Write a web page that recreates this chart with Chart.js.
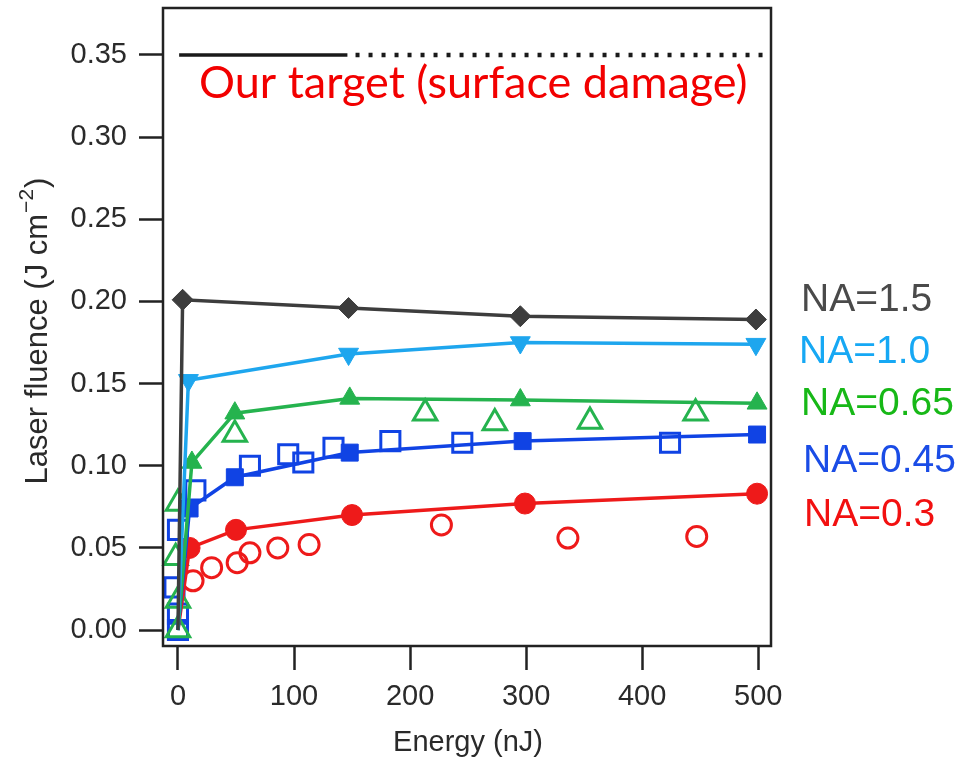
<!DOCTYPE html>
<html>
<head>
<meta charset="utf-8">
<title>Laser fluence vs energy</title>
<script src="https://cdn.jsdelivr.net/npm/chart.js@4.4.1/dist/chart.umd.min.js"></script>
<style>
  html, body { margin: 0; padding: 0; background: #fff; }
  #wrap { width: 963px; height: 758px; }
</style>
</head>
<body>
<div id="wrap"><canvas id="fluenceChart" width="963" height="758"></canvas></div>
<script>
// Axis ticks
const energyTicks = [0, 100, 200, 300, 400, 500];
const fluenceTicks = [0, 0.05, 0.10, 0.15, 0.20, 0.25, 0.30, 0.35];

// Fitted curves (filled markers); the first point of each is the origin
const na15Energy = [0, 4, 147, 295, 498];
const na15Fluence = [0, 0.201, 0.196, 0.191, 0.189];

const na10Energy = [0, 9, 147, 295, 498];
const na10Fluence = [0, 0.152, 0.168, 0.175, 0.174];

const na065Energy = [0, 12, 49, 148, 295, 499];
const na065Fluence = [0, 0.102, 0.132, 0.141, 0.140, 0.138];

const na045Energy = [0, 10, 49, 148, 297, 499];
const na045Fluence = [0, 0.074, 0.093, 0.108, 0.115, 0.119];

const na03Energy = [0, 10, 50, 150, 299, 499];
const na03Fluence = [0, 0.050, 0.061, 0.070, 0.077, 0.083];

// Measured points (open markers)
const na065OpenEnergy = [0, 0, -2, 0, 49, 213, 273, 355, 446];
const na065OpenFluence = [0, 0.018, 0.044, 0.077, 0.119, 0.132, 0.126, 0.127, 0.132];

const na045OpenEnergy = [0, 0, -3, 0, 15, 62, 95, 108, 134, 183, 245, 424];
const na045OpenFluence = [0, 0.010, 0.026, 0.061, 0.085, 0.100, 0.107, 0.102, 0.111, 0.115, 0.114, 0.114];

const na03OpenEnergy = [13, 29, 51, 62, 86, 113, 227, 336, 447];
const na03OpenFluence = [0.030, 0.038, 0.041, 0.047, 0.050, 0.052, 0.064, 0.056, 0.057];

// Surface damage target level
const targetFluence = 0.35;
const targetSolidEnergy = [1, 146];
const targetDottedEnergy = [153, 508];

// Labels on the right-hand side
const naLabels = ['NA=1.5', 'NA=1.0', 'NA=0.65', 'NA=0.45', 'NA=0.3'];

const GRAY = '#3d3d3d';
const CYAN = '#1ea6ee';
const GREEN = '#25b34e';
const BLUE = '#1043e4';
const RED = '#ee1a1a';

function toPoints(xs, ys) {
    return xs.map((x, i) => ({ x: x, y: ys[i] }));
}

// Fitted series: line plus filled markers, no marker at the origin
function fitSeries(xs, ys, color, style, radius, rotation) {
    return {
        data: toPoints(xs, ys),
        showLine: true,
        borderColor: color,
        borderWidth: 3.5,
        backgroundColor: color,
        pointBackgroundColor: color,
        pointBorderColor: color,
        pointBorderWidth: 1,
        pointStyle: style,
        pointRotation: rotation || 0,
        pointRadius: ctx => (ctx.raw && ctx.raw.x === 0 && ctx.raw.y === 0) ? 0 : radius,
        order: 1,
        clip: false
    };
}

function openSeries(xs, ys, color, style, radius) {
    return {
        data: toPoints(xs, ys),
        showLine: false,
        borderColor: color,
        backgroundColor: 'rgba(0,0,0,0)',
        pointBorderColor: color,
        pointBackgroundColor: 'rgba(0,0,0,0)',
        pointBorderWidth: 3,
        pointStyle: style,
        pointRadius: radius,
        order: 2,
        clip: false
    };
}

const datasets = [
    {
        data: toPoints(targetSolidEnergy, targetSolidEnergy.map(() => targetFluence)),
        showLine: true,
        borderColor: '#1a1a1a',
        borderWidth: 3.5,
        pointRadius: 0,
        order: 3
    },
    {
        data: toPoints(targetDottedEnergy, targetDottedEnergy.map(() => targetFluence)),
        showLine: true,
        borderColor: '#1a1a1a',
        borderWidth: 4.5,
        borderDash: [4, 9],
        borderCapStyle: 'butt',
        pointRadius: 0,
        order: 3
    },
    openSeries(na065OpenEnergy, na065OpenFluence, GREEN, 'triangle', 13.5),
    openSeries(na045OpenEnergy, na045OpenFluence, BLUE, 'rect', 13.5),
    openSeries(na03OpenEnergy, na03OpenFluence, RED, 'circle', 10),
    fitSeries(na15Energy, na15Fluence, GRAY, 'rectRot', 10.5),
    fitSeries(na10Energy, na10Fluence, CYAN, 'triangle', 11.5, 180),
    fitSeries(na065Energy, na065Fluence, GREEN, 'triangle', 11.5),
    fitSeries(na045Energy, na045Fluence, BLUE, 'rect', 12),
    fitSeries(na03Energy, na03Fluence, RED, 'circle', 10.5)
];

// Frame, axis titles and text annotations
const decorPlugin = {
    id: 'decor',
    afterDraw(chart) {
        const { ctx, chartArea: a } = chart;
        ctx.save();

        ctx.strokeStyle = '#222';
        ctx.lineWidth = 2.5;
        ctx.strokeRect(a.left, a.top, a.right - a.left, a.bottom - a.top);

        // x title
        ctx.fillStyle = '#2a2a2a';
        ctx.font = '29px "Liberation Sans", Arial, sans-serif';
        ctx.textAlign = 'center';
        ctx.textBaseline = 'alphabetic';
        ctx.fillText('Energy (nJ)', 468, 751);

        // y title with superscript
        const main = 'Laser fluence (J cm';
        const sup = '\u22122';
        const tail = ')';
        const bigFont = '31px "Liberation Sans", Arial, sans-serif';
        const smallFont = '21px "Liberation Sans", Arial, sans-serif';
        ctx.font = bigFont;
        const wMain = ctx.measureText(main).width;
        const wTail = ctx.measureText(tail).width;
        ctx.font = smallFont;
        const wSup = ctx.measureText(sup).width;
        const total = wMain + wSup + wTail + 2;
        ctx.translate(47, 331);
        ctx.rotate(-Math.PI / 2);
        ctx.textAlign = 'left';
        const x0 = -total / 2;
        ctx.font = bigFont;
        ctx.fillText(main, x0, 0);
        ctx.font = smallFont;
        ctx.fillText(sup, x0 + wMain + 1, -14);
        ctx.font = bigFont;
        ctx.fillText(tail, x0 + wMain + wSup + 2, 0);
        ctx.setTransform(1, 0, 0, 1, 0, 0);

        // target annotation
        ctx.fillStyle = '#f20000';
        ctx.textAlign = 'left';
        ctx.font = '45px Lato, "Noto Sans", sans-serif';
        ctx.fillText('Our target (surface damage)', 199, 98);

        // NA labels
        const colors = ['#4a4a4a', '#16a8f4', '#17b817', '#1a4ce6', '#f21010'];
        const ys = [300, 352, 404, 461, 515];
        const xs = [801, 799, 801, 803, 804];
        ctx.font = '39px "Liberation Sans", Arial, sans-serif';
        ctx.textBaseline = 'middle';
        naLabels.forEach((label, i) => {
            ctx.fillStyle = colors[i];
            ctx.fillText(label, xs[i], ys[i]);
        });

        ctx.restore();
    }
};

const tickFont = { family: '"Liberation Sans", Arial, sans-serif', size: 29 };

new Chart(document.getElementById('fluenceChart'), {
    type: 'scatter',
    data: { datasets: datasets },
    options: {
        responsive: false,
        animation: false,
        devicePixelRatio: 1,
        layout: { autoPadding: false, padding: { top: 8, right: 192, left: 0, bottom: 0 } },
        plugins: {
            legend: { display: false },
            tooltip: { enabled: false }
        },
        scales: {
            x: {
                type: 'linear',
                min: -12.9,
                max: 511,
                afterFit: scale => {
                    scale.height = 112;
                    scale.paddingLeft = 0;
                    scale.paddingRight = 0;
                },
                afterBuildTicks: scale => { scale.ticks = energyTicks.map(v => ({ value: v })); },
                border: { display: false },
                grid: {
                    drawOnChartArea: false,
                    drawTicks: true,
                    tickLength: 24,
                    tickWidth: 2.5,
                    tickColor: '#222'
                },
                ticks: {
                    color: '#2a2a2a',
                    font: tickFont,
                    padding: 10,
                    maxRotation: 0,
                    autoSkip: false
                }
            },
            y: {
                type: 'linear',
                min: -0.0097,
                max: 0.3786,
                afterFit: scale => {
                    scale.width = 163;
                    scale.paddingTop = 0;
                    scale.paddingBottom = 0;
                },
                afterBuildTicks: scale => { scale.ticks = fluenceTicks.map(v => ({ value: v })); },
                border: { display: false },
                grid: {
                    drawOnChartArea: false,
                    drawTicks: true,
                    tickLength: 24,
                    tickWidth: 2.5,
                    tickColor: '#222'
                },
                ticks: {
                    color: '#2a2a2a',
                    font: tickFont,
                    padding: 12,
                    autoSkip: false,
                    callback: v => v.toFixed(2)
                }
            }
        }
    },
    plugins: [decorPlugin]
});
</script>
</body>
</html>
